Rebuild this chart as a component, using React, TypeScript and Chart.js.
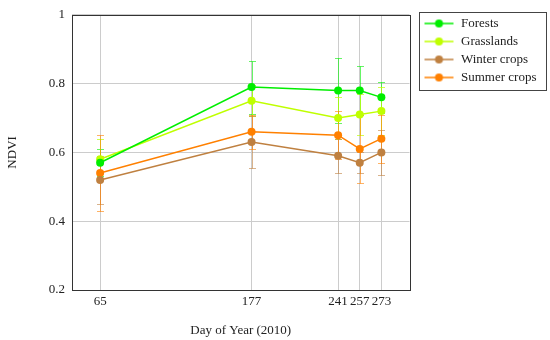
import { useEffect, useRef } from "react";
import { Chart, registerables } from "chart.js";

Chart.register(...registerables);

const days = [65, 177, 241, 257, 273];
const seriesNames = ["Forests", "Grasslands", "Winter crops", "Summer crops"];
const forests = [0.57, 0.79, 0.78, 0.78, 0.76];
const forestsErr = [0.04, 0.077, 0.095, 0.072, 0.045];
const grasslands = [0.58, 0.75, 0.7, 0.71, 0.72];
const grasslandsErr = [0.06, 0.045, 0.06, 0.06, 0.07];
const winterCrops = [0.52, 0.63, 0.59, 0.57, 0.6];
const winterCropsErr = [0.07, 0.075, 0.05, 0.03, 0.065];
const summerCrops = [0.54, 0.66, 0.65, 0.61, 0.64];
const summerCropsErr = [0.11, 0.05, 0.07, 0.1, 0.07];
const yTicks = [0.2, 0.4, 0.6, 0.8, 1];
const xTitle = "Day of Year (2010)";
const yTitle = "NDVI";

const colors = ["#00ee00", "#bfff00", "#bf8040", "#ff8000"];
const errColors = [
  "rgba(0,238,0,0.6)",
  "rgba(191,255,0,0.7)",
  "rgba(191,128,64,0.6)",
  "rgba(255,128,0,0.6)",
];
const FONT = "'Liberation Serif', 'Times New Roman', serif";

function legendSymbol(color: string) {
  const c = document.createElement("canvas");
  c.width = 40;
  c.height = 12;
  const ctx = c.getContext("2d")!;
  ctx.strokeStyle = color;
  ctx.lineWidth = 1.5;
  ctx.beginPath();
  ctx.moveTo(10, 6);
  ctx.lineTo(39, 6);
  ctx.stroke();
  ctx.fillStyle = color;
  ctx.beginPath();
  ctx.arc(24.5, 6, 4, 0, Math.PI * 2);
  ctx.fill();
  return c;
}

const errorBarPlugin = {
  id: "errorBars",
  beforeDatasetsDraw(chart: any) {
    const ctx = chart.ctx;
    const xs = chart.scales.x;
    const ys = chart.scales.y;
    chart.data.datasets.forEach((ds: any, i: number) => {
      const errs: number[] = ds.errors || [];
      ctx.save();
      ctx.strokeStyle = errColors[i];
      ctx.lineWidth = 1;
      ds.data.forEach((p: any, j: number) => {
        const e = errs[j];
        if (e == null) return;
        const x = Math.round(xs.getPixelForValue(p.x)) + 0.5;
        const yt = Math.round(ys.getPixelForValue(p.y + e)) + 0.5;
        const yb = Math.round(ys.getPixelForValue(p.y - e)) + 0.5;
        ctx.beginPath();
        ctx.moveTo(x, yt);
        ctx.lineTo(x, yb);
        ctx.moveTo(x - 3.5, yt);
        ctx.lineTo(x + 3.5, yt);
        ctx.moveTo(x - 3.5, yb);
        ctx.lineTo(x + 3.5, yb);
        ctx.stroke();
      });
      ctx.restore();
    });
  },
  afterDraw(chart: any) {
    const ctx = chart.ctx;
    const a = chart.chartArea;
    ctx.save();
    ctx.strokeStyle = "#333";
    ctx.lineWidth = 1;
    ctx.strokeRect(Math.round(a.left) + 0.5, Math.round(a.top) + 0.5, Math.round(a.right - a.left), Math.round(a.bottom - a.top));
    const lg = chart.legend;
    if (lg && lg.legendHitBoxes && lg.legendHitBoxes.length) {
      const hb = lg.legendHitBoxes;
      let right = 0;
      hb.forEach((h: any) => {
        right = Math.max(right, h.left + h.width);
      });
      const left = hb[0].left + 4;
      const top = hb[0].top - 5;
      const bottom = hb[hb.length - 1].top + hb[hb.length - 1].height + 6;
      ctx.strokeStyle = "#444";
      ctx.strokeRect(Math.round(left) + 0.5, Math.round(top) + 0.5, Math.round(right + 9 - left), Math.round(bottom - top));
    }
    ctx.restore();
  },
};

export default function App() {
  const ref = useRef<HTMLCanvasElement | null>(null);
  useEffect(() => {
    if (!ref.current) return;
    Chart.defaults.font.family = FONT;
    Chart.defaults.font.size = 13;
    Chart.defaults.color = "#222";
    const values = [forests, grasslands, winterCrops, summerCrops];
    const errs = [forestsErr, grasslandsErr, winterCropsErr, summerCropsErr];
    const symbols = colors.map(legendSymbol);
    const chart = new Chart(ref.current, {
      type: "line",
      data: {
        datasets: seriesNames.map((name, i) => ({
          label: name,
          data: days.map((d, j) => ({ x: d, y: values[i][j] })),
          errors: errs[i],
          borderColor: colors[i],
          backgroundColor: colors[i],
          borderWidth: 1.5,
          pointRadius: 4,
          pointBorderWidth: 0,
          pointStyle: "circle",
          pointBackgroundColor: colors[i],
          pointBorderColor: colors[i],
          fill: false,
        })) as any,
      },
      options: {
        animation: false,
        responsive: false,
        layout: { padding: { top: 12, left: 0, right: 4, bottom: 2 } },
        scales: {
          x: {
            type: "linear",
            min: 44.2,
            max: 293.8,
            afterBuildTicks: (s: any) => {
              s.ticks = days.map((d) => ({ value: d }));
            },
            afterFit: (s: any) => {
              s.height = 48;
            },
            ticks: { padding: 4, autoSkip: false, maxRotation: 0, callback: (v: any) => String(v) },
            grid: { color: "#cccccc", lineWidth: 1, drawTicks: false },
            border: { display: false },
            title: { display: true, text: xTitle, padding: { top: 0, bottom: 0 } },
          },
          y: {
            type: "linear",
            min: 0.2,
            max: 1,
            afterBuildTicks: (s: any) => {
              s.ticks = yTicks.map((d) => ({ value: d }));
            },
            afterFit: (s: any) => {
              s.width = 72;
            },
            ticks: { padding: 7, callback: (v: any) => String(Math.round(v * 10) / 10) },
            grid: { color: "#cccccc", lineWidth: 1, drawTicks: false },
            border: { display: false },
            title: { display: true, text: yTitle, padding: { top: 5, bottom: 0 } },
          },
        },
        plugins: {
          legend: {
            position: "right",
            align: "start",
            labels: {
              usePointStyle: true,
              pointStyleWidth: 40,
              boxHeight: 12,
              padding: 5,
              color: "#222",
              font: { family: FONT, size: 13 },
              generateLabels: (chart: any) =>
                chart.data.datasets.map((ds: any, i: number) => ({
                  text: ds.label,
                  pointStyle: symbols[i],
                  fillStyle: colors[i],
                  strokeStyle: colors[i],
                  lineWidth: 0,
                  hidden: false,
                  datasetIndex: i,
                  fontColor: "#222",
                })),
            },
          },
          tooltip: { enabled: false },
        },
      } as any,
      plugins: [errorBarPlugin],
    });
    return () => chart.destroy();
  }, []);
  return (
    <div style={{ position: "fixed", left: 0, top: 0, width: 550, height: 340, background: "#fff" }}>
      <canvas ref={ref} width={550} height={340} style={{ display: "block", width: 550, height: 340 }} />
    </div>
  );
}
